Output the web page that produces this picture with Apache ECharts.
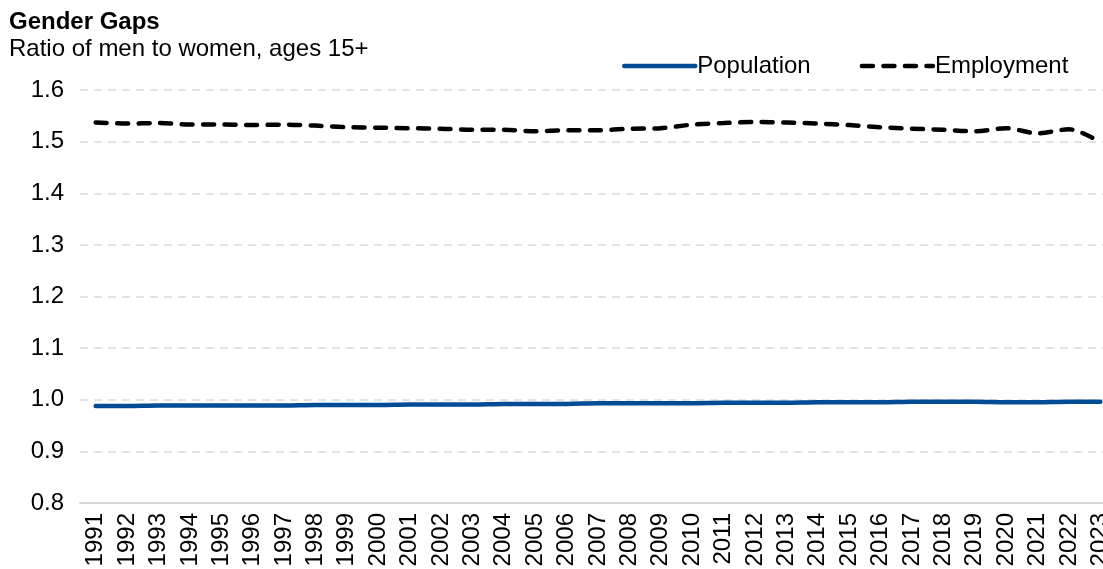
<!DOCTYPE html>
<html><head><meta charset="utf-8">
<script src="https://cdn.jsdelivr.net/npm/echarts@6/dist/echarts.min.js"></script>
<style>html,body{margin:0;padding:0;background:#fff}#c{width:1103px;height:569px}</style>
</head><body><div id="c"></div>
<script>
var years = ['1991','1992','1993','1994','1995','1996','1997','1998','1999','2000','2001','2002','2003','2004','2005','2006','2007','2008','2009','2010','2011','2012','2013','2014','2015','2016','2017','2018','2019','2020','2021','2022','2023'];
var population = [0.988,0.988,0.989,0.989,0.989,0.989,0.989,0.990,0.990,0.990,0.991,0.991,0.991,0.992,0.992,0.992,0.993,0.993,0.993,0.993,0.994,0.994,0.994,0.995,0.995,0.995,0.996,0.996,0.996,0.995,0.995,0.996,0.996];
var employment = [1.537,1.535,1.536,1.533,1.533,1.532,1.533,1.531,1.528,1.527,1.526,1.525,1.523,1.523,1.520,1.522,1.522,1.525,1.526,1.533,1.536,1.538,1.537,1.535,1.532,1.528,1.525,1.523,1.520,1.526,1.516,1.524,1.499];
var yTicks = {min:0.8, max:1.6, interval:0.1};
var chart = echarts.init(document.getElementById('c'));
var font = 'Liberation Sans, Arial, sans-serif';
chart.setOption({
  animation:false,
  textStyle:{fontFamily:font},
  title:[
    {text:'Gender Gaps', left:9, top:10, padding:0, textStyle:{fontSize:24, fontWeight:'bold', color:'#000', fontFamily:font}},
    {text:'Ratio of men to women, ages 15+', left:9, top:37, padding:0, textStyle:{fontSize:24, fontWeight:'normal', color:'#000', fontFamily:font}}
  ],
  legend:{
    top:54, left:622, padding:0, itemWidth:71, itemHeight:20, itemGap:49,
    itemStyle:{color:'transparent', borderWidth:0, opacity:0},
    lineStyle:{width:4.5},
    textStyle:{fontSize:24, color:'#000', fontFamily:font, padding:[0,0,0,-3]},
    data:['Population','Employment']
  },
  grid:{left:80, top:90, bottom:66, right:-13, outerBoundsMode:'none', containLabel:false},
  xAxis:{
    type:'category', data:years, boundaryGap:true,
    axisLine:{lineStyle:{color:'#d9d9d9', width:2}},
    axisTick:{show:false},
    axisLabel:{rotate:90, fontSize:24, color:'#000', margin:10, fontFamily:font, interval:0}
  },
  yAxis:{
    type:'value', min:yTicks.min, max:yTicks.max, interval:yTicks.interval,
    axisLine:{show:false}, axisTick:{show:false},
    axisLabel:{fontSize:24, color:'#000', margin:16, fontFamily:font, formatter:function(v){return v.toFixed(1);}},
    splitLine:{lineStyle:{color:'#d9d9d9', type:[8,6], width:1.5}}
  },
  series:[
    {name:'Population', type:'line', data:population, symbol:'none', smooth:0.3,
     lineStyle:{color:'#004c97', width:4.5, cap:'round'}, itemStyle:{color:'#004c97'}},
    {name:'Employment', type:'line', data:employment, symbol:'none', smooth:0.3,
     lineStyle:{color:'#000', width:4.5, type:[11,10.5], cap:'round'}, itemStyle:{color:'#000'}}
  ]
});
</script></body></html>
